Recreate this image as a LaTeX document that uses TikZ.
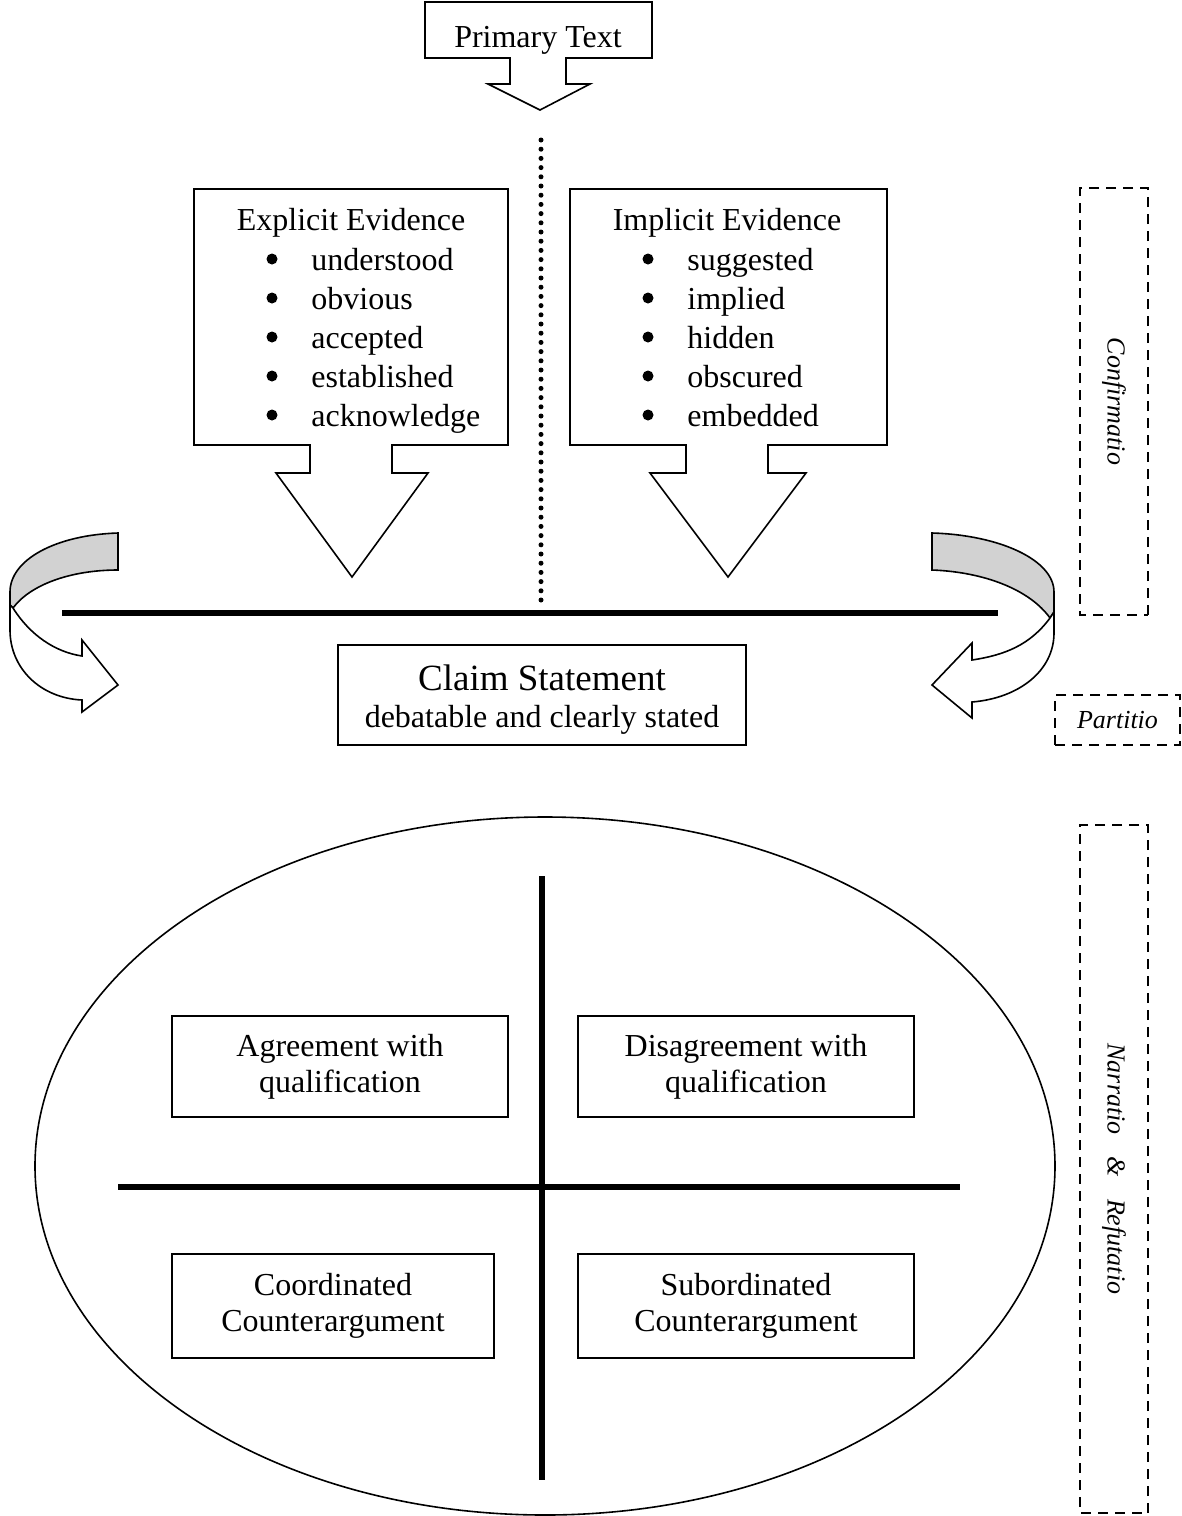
\documentclass[tikz,border=0pt]{standalone}
\usepackage{fontspec}
\setmainfont{Liberation Serif}
\usepackage{xcolor}
\usepackage{tikz}
\definecolor{ribbon}{RGB}{210,210,210}

\begin{document}
\begin{tikzpicture}[x=.5pt,y=-.5pt,font=\fontsize{16}{19.5}\selectfont]
\tikzstyle{box} = [draw, shape=rectangle, line width=.9pt, align=center, inner sep=0pt]
\tikzstyle{quad} = [box, font=\fontsize{16}{18}\selectfont]
\tikzstyle{outline} = [draw, line width=.8pt, line join=miter, fill=white]
\tikzstyle{part} = [draw, dash pattern=on 5pt off 3.5pt, line width=1.1pt, inner sep=0pt, font=\fontsize{13}{15}\selectfont\itshape]
\tikzstyle{bar} = [line width=2.6pt]
\useasboundingbox (0,0) rectangle (1182,1516);

% primary text
\draw [outline] (425,2) -- (652,2) -- (652,58) -- (566,58) -- (566,84) -- (590,84) -- (540,110)
  -- (488,84) -- (510,84) -- (510,58) -- (425,58) -- cycle;
\node (prim) [anchor=base, inner sep=0pt] at (538,47) {Primary Text};

% evidence callouts
\draw [outline] (194,189) -- (508,189) -- (508,445) -- (392,445) -- (392,473) -- (428,473) -- (352,577)
  -- (276,473) -- (310,473) -- (310,445) -- (194,445) -- cycle;
\draw [outline] (570,189) -- (887,189) -- (887,445) -- (768,445) -- (768,473) -- (806,473) -- (728,577)
  -- (650,473) -- (686,473) -- (686,445) -- (570,445) -- cycle;

\draw
  node (explT) [anchor=base, inner sep=0pt] at (351,230) {Explicit Evidence}
  node (explL) [anchor=base west, inner sep=0pt] at (311,270)
    {\begin{tabular}[t]{@{}l@{}}
     understood\\ obvious\\ accepted\\ established\\ acknowledge
     \end{tabular}}
  node (implT) [anchor=base, inner sep=0pt] at (727,230) {Implicit Evidence}
  node (implL) [anchor=base west, inner sep=0pt] at (687,270)
    {\begin{tabular}[t]{@{}l@{}}
     suggested\\ implied\\ hidden\\ obscured\\ embedded
     \end{tabular}};
\foreach \y in {259,298,337,376,415} {
  \fill (272,\y) circle [radius=5.5];
  \fill (648,\y) circle [radius=5.5];
}

\draw [line width=2.5pt, line cap=round, dash pattern=on 0pt off 4.6pt] (541,140) -- (541,608);
\draw [bar] (62,613) -- (998,613);

% curved arrows
\filldraw [fill=ribbon, line width=.8pt] (118,533) .. controls (55,535) and (10,560) .. (10,592)
  -- (10,605) -- (13,608) .. controls (30,585) and (70,570) .. (118,570) -- cycle;
\draw [outline] (13,608) .. controls (30,635) and (55,652) .. (82,656) -- (82,640) -- (118,685)
  -- (82,712) -- (82,700) .. controls (40,698) and (10,668) .. (10,630) -- (10,605) -- cycle;
\filldraw [fill=ribbon, line width=.8pt] (932,533) .. controls (1000,535) and (1054,560) .. (1054,592)
  -- (1054,612) -- (1050,618) .. controls (1030,590) and (985,572) .. (932,570) -- cycle;
\draw [outline] (1050,618) .. controls (1030,645) and (1005,655) .. (972,660) -- (972,643) -- (932,685)
  -- (972,718) -- (972,702) .. controls (1020,698) and (1054,670) .. (1054,633) -- (1054,612) -- cycle;

\node (claim) [box, minimum width=204pt, minimum height=50pt] at (542,695) {};
\node (claimT) [align=center, inner sep=0pt] at (542,700)
  {{\fontsize{18.5}{22}\selectfont Claim Statement}\\[-1pt]debatable and clearly stated};

% counterargument ellipse
\draw [line width=.8pt] (545,1166) ellipse [x radius=510, y radius=349];
\draw [bar] (542,876) -- (542,1480);
\draw [bar] (118,1187) -- (960,1187);
\node (agree) [quad, minimum width=168pt, minimum height=50.5pt] at (340,1066.5) {Agreement with\\qualification};
\node (disagree) [quad, minimum width=168pt, minimum height=50.5pt] at (746,1066.5) {Disagreement with\\qualification};
\node (coord) [quad, minimum width=161pt, minimum height=52pt] at (333,1306) {Coordinated\\Counterargument};
\node (subord) [quad, minimum width=168pt, minimum height=52pt] at (746,1306) {Subordinated\\Counterargument};

% rhetoric parts
\node (conf) [part, rotate=-90, minimum width=213.5pt, minimum height=34pt] at (1114,401.5) {Confirmatio};
\node (parti) [part, minimum width=62.5pt, minimum height=25pt] at (1117.5,720) {Partitio};
\node (narr) [part, rotate=-90, minimum width=344pt, minimum height=34pt] at (1114,1169)
  {Narratio\hspace{.85em}\&\hspace{.85em}Refutatio};
\end{tikzpicture}
\end{document}
